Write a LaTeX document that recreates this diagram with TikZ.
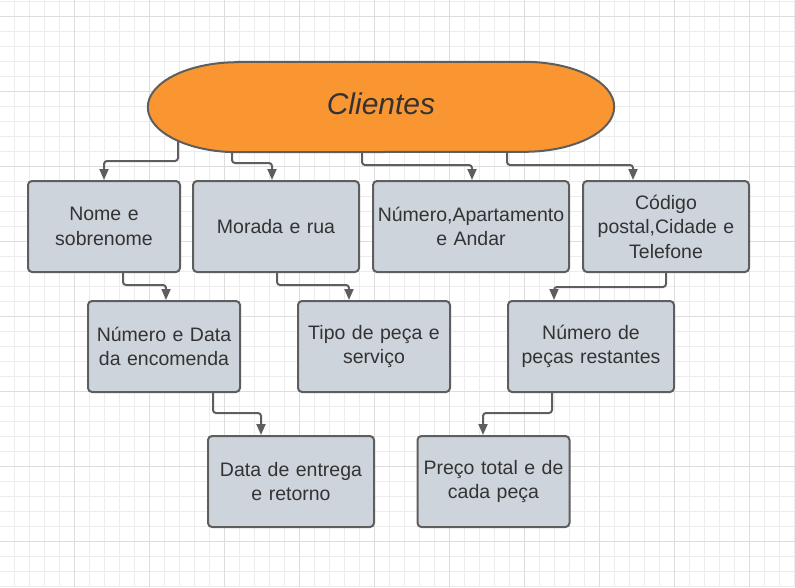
\documentclass[tikz,border=0pt]{standalone}
\usepackage{fontspec}
\setmainfont{Liberation Sans}
\usepackage{tikz}
\usetikzlibrary{arrows.meta,calc,backgrounds}
\usepackage{xcolor}
\definecolor{cliorange}{RGB}{250,150,50}
\definecolor{boxgray}{RGB}{206,212,220}
\definecolor{linegray}{RGB}{94,94,94}
\definecolor{txtgray}{RGB}{51,51,51}
\definecolor{gridlight}{RGB}{236,236,236}
\definecolor{griddark}{RGB}{221,221,221}
\tikzset{
    campo/.style={rectangle, draw=linegray, fill=boxgray, line width=2pt,
                  rounded corners=4pt, minimum height=91pt, minimum width=#1,
                  text width=#1-6pt, align=center, text=txtgray, inner sep=0pt,
                  font=\fontsize{19.5}{24.5}\selectfont},
    conn/.style={-{Triangle[width=9pt,length=11pt]}, line width=2pt,
                 draw=linegray, rounded corners=3pt},
    gridminor/.style={draw=gridlight, line width=1pt},
    gridmajor/.style={draw=griddark, line width=1pt},
}

\begin{document}
\begin{tikzpicture}[x=1pt,y=-1pt,
    clnode/.style={minimum width=466pt,minimum height=90pt,inner sep=0pt,
                   text=txtgray,font=\fontsize{30}{36}\selectfont\itshape}]
    \useasboundingbox (0,0) rectangle (795,587);

    \node[clnode] (cl) at (381,104) {Clientes};

    \node[campo=152pt] (nome) at (104,226.5) {Nome e\\sobrenome};
    \node[campo=166pt] (mor)  at (276,226.5) {Morada e rua};
    \node[campo=196pt] (num)  at (471,226.5) {Número,Apartamento\\e Andar};
    \node[campo=166pt] (cod)  at (666,226.5) {Código\\postal,Cidade e\\Telefone};

    \node[campo=152pt] (enc)  at (164,346.5) {Número e Data\\da encomenda};
    \node[campo=152pt] (tipo) at (374,346.5) {Tipo de peça e\\serviço};
    \node[campo=166pt] (pec)  at (591,346.5) {Número de\\peças restantes};

    \node[campo=166pt] (ent)  at (291,481.5) {Data de entrega\\e retorno};
    \node[campo=152pt] (pre)  at (493.5,481.5) {Preço total e de\\cada peça};

    \begin{scope}[on background layer]
        \foreach \gx in {14,29,...,794} \draw[gridminor] (\gx,0) -- (\gx,587);
        \foreach \gy in {1,16,...,586} \draw[gridminor] (0,\gy) -- (795,\gy);
        \foreach \gx in {74,149,...,749} \draw[gridmajor] (\gx,0) -- (\gx,587);
        \foreach \gy in {16,91,...,541} \draw[gridmajor] (0,\gy) -- (795,\gy);

        \draw[conn] ([xshift=-203pt,yshift=-3pt]cl.center) |- ([yshift=19pt]nome.north) -- (nome.north);
        \draw[conn] ([xshift=-149pt,yshift=-3pt]cl.center) |- ([xshift=-4pt,yshift=17pt]mor.north) -- ([xshift=-4pt]mor.north);
        \draw[conn] ([xshift=-19pt,yshift=-3pt]cl.center) |- ([xshift=1pt,yshift=15pt]num.north) -- ([xshift=1pt]num.north);
        \draw[conn] ([xshift=126pt,yshift=-3pt]cl.center) |- ([xshift=-33pt,yshift=15pt]cod.north) -- ([xshift=-33pt]cod.north);

        \draw[conn] ([xshift=19pt]nome.south) |- ([xshift=2pt,yshift=15pt]enc.north) -- ([xshift=2pt]enc.north);
        \draw[conn] ([xshift=1pt]mor.south) |- ([xshift=-25pt,yshift=15pt]tipo.north) -- ([xshift=-25pt]tipo.north);
        \draw[conn] (cod.south) |- ([xshift=-37pt,yshift=13pt]pec.north) -- ([xshift=-37pt]pec.north);

        \draw[conn] ([xshift=49pt]enc.south) |- ([xshift=-30pt,yshift=22pt]ent.north) -- ([xshift=-30pt]ent.north);
        \draw[conn] ([xshift=-39pt]pec.south) |- ([xshift=-10.5pt,yshift=22pt]pre.north) -- ([xshift=-10.5pt]pre.north);

        \draw[draw=linegray,fill=cliorange,line width=2pt]
            ([xshift=90pt,yshift=-3pt]cl.north west) -- ([xshift=-90pt,yshift=-3pt]cl.north east)
            arc[start angle=90,end angle=-90,x radius=90pt,y radius=45pt]
            -- ([xshift=90pt,yshift=-3pt]cl.south west)
            arc[start angle=270,end angle=90,x radius=90pt,y radius=45pt] -- cycle;
    \end{scope}
\end{tikzpicture}
\end{document}
